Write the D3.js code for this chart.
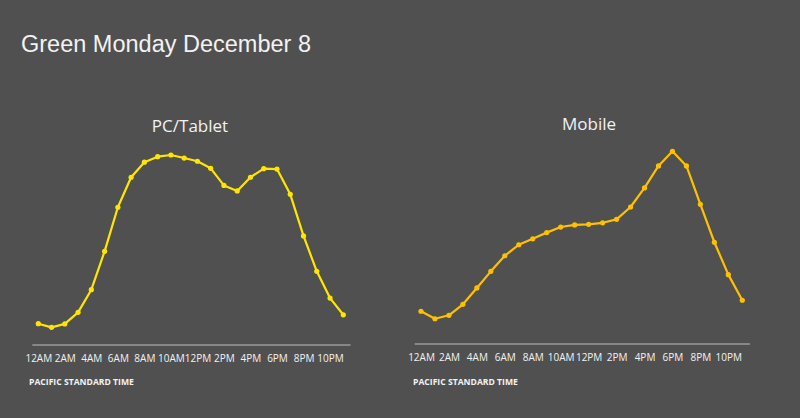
<!DOCTYPE html>
<html>
<head>
<meta charset="utf-8">
<script src="https://cdn.jsdelivr.net/npm/d3@7"></script>
<style>
  body { margin: 0; background: #505050; }
  svg { display: block; }
</style>
</head>
<body>
<div id="chart"></div>
<script>
// Green Monday traffic by hour (relative index, peak = 100)

// hours of the day, 0 = 12AM
var hours = d3.range(0, 24);
var tickHours = [0, 2, 4, 6, 8, 10, 12, 14, 16, 18, 20, 22];
var tickLabels = ["12AM", "2AM", "4AM", "6AM", "8AM", "10AM", "12PM", "2PM", "4PM", "6PM", "8PM", "10PM"];

// PC/Tablet series
var pcValues = [11.2, 9.3, 11.1, 17.2, 29.1, 49.3, 72.5, 88.3, 96.2, 99.1, 100, 98.4,
                96.7, 93.0, 84.0, 81.1, 88.3, 92.8, 92.6, 79.3, 57.4, 38.8, 24.7, 15.9];
// Mobile series
var mobileValues = [17.0, 13.1, 14.9, 20.6, 29.1, 37.7, 45.8, 51.5, 54.6, 57.8, 60.7, 61.8,
                    62.1, 62.9, 64.7, 71.1, 81.0, 92.4, 100, 92.4, 72.5, 52.8, 36.0, 22.7];

var w = 800;
var h = 418;

var svg = d3.select("#chart")
  .append("svg")
  .attr("width", w)
  .attr("height", h);

// main title
svg.append("text")
  .text("Green Monday December 8")
  .attr("x", 21)
  .attr("y", 52)
  .attr("font-family", "Liberation Sans, Arial, sans-serif")
  .attr("font-size", "23.5px")
  .attr("fill", "#f2f2f2");

// one small panel
function drawPanel(opts) {
  var x = d3.scaleLinear().domain([0, 23]).range([opts.x0, opts.x1]);
  var y = d3.scaleLinear().domain([0, 100]).range([opts.yBase, opts.yTop]);

  var g = svg.append("g");

  // panel title
  g.append("text")
    .text(opts.title)
    .attr("x", opts.titleX)
    .attr("y", opts.titleY)
    .attr("text-anchor", "middle")
    .attr("font-family", "Open Sans, sans-serif")
    .attr("font-size", "17px")
    .attr("fill", "#f2f2f2");

  // axis baseline
  g.append("line")
    .attr("x1", x(-0.45))
    .attr("x2", x(23.55))
    .attr("y1", opts.axisY)
    .attr("y2", opts.axisY)
    .attr("stroke", "#bfbfbf")
    .attr("stroke-width", 1);

  // hour labels
  var axis = d3.axisBottom(x)
    .tickValues(tickHours)
    .tickFormat(function(d, i) { return tickLabels[i]; })
    .tickSize(0)
    .tickPadding(0);

  var ax = g.append("g")
    .attr("transform", "translate(0," + (opts.axisY + 9.5) + ")")
    .call(axis);
  ax.select(".domain").remove();
  ax.selectAll("text")
    .attr("font-family", "Open Sans, sans-serif")
    .attr("font-size", "10px")
    .attr("fill", "#f2f2f2");

  // axis caption
  g.append("text")
    .text("PACIFIC STANDARD TIME")
    .attr("x", opts.captionX)
    .attr("y", 385)
    .attr("font-family", "Open Sans, sans-serif")
    .attr("font-weight", "bold")
    .attr("font-size", "8.6px")
    .attr("fill", "#f2f2f2");

  var line = d3.line()
    .x(function(d, i) { return x(hours[i]); })
    .y(function(d) { return y(d); });

  g.append("path")
    .datum(opts.values)
    .attr("d", line)
    .attr("fill", "none")
    .attr("stroke", opts.color)
    .attr("stroke-width", 2.2)
    .attr("stroke-linejoin", "round");

  g.selectAll("circle")
    .data(opts.values)
    .enter()
    .append("circle")
    .attr("cx", function(d, i) { return x(hours[i]); })
    .attr("cy", function(d) { return y(d); })
    .attr("r", 2.6)
    .attr("fill", opts.color);
}

drawPanel({
  title: "PC/Tablet", titleX: 190, titleY: 132,
  values: pcValues, color: "#ffe600",
  x0: 38.3, x1: 343.3, yBase: 345, yTop: 155,
  axisY: 345, captionX: 29
});

drawPanel({
  title: "Mobile", titleX: 589, titleY: 130,
  values: mobileValues, color: "#ffc000",
  x0: 421, x1: 742.3, yBase: 344, yTop: 151.3,
  axisY: 344, captionX: 413
});
</script>
</body>
</html>
